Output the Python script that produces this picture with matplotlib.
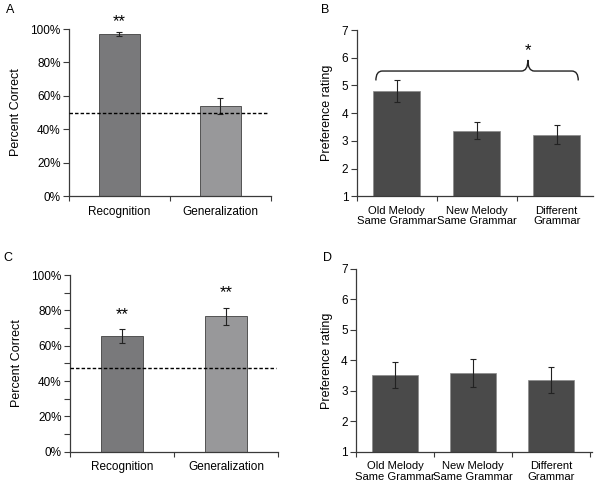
import numpy as np
import matplotlib
matplotlib.use("Agg")
import matplotlib.pyplot as plt
from matplotlib.path import Path
from matplotlib.patches import PathPatch
from matplotlib.ticker import FuncFormatter, MultipleLocator, FixedLocator

plt.rcParams['font.family'] = ['Liberation Sans', 'DejaVu Sans']
plt.rcParams['font.size'] = 8.5

# data
acc_labels = ["Recognition", "Generalization"]
acc_a = [0.97, 0.537]
acc_a_err = [0.01, 0.047]
chance_a = 0.495
acc_c = [0.655, 0.767]
acc_c_err = [0.038, 0.049]
chance_c = 0.475

pref_labels = ["Old Melody\nSame Grammar", "New Melody\nSame Grammar", "Different\nGrammar"]
pref_b = [4.80, 3.37, 3.23]
pref_b_err = [0.38, 0.30, 0.33]
pref_d = [3.52, 3.57, 3.36]
pref_d_err = [0.42, 0.46, 0.43]

acc_colors = ["#79797b", "#98989a"]
pref_color = "#4a4a4a"
spine_col = "#3a3a3a"

fig = plt.figure(figsize=(6.02, 4.92), dpi=100)


def style_axis(ax, n, xmax):
    for s in ["top", "right"]:
        ax.spines[s].set_visible(False)
    for s in ["left", "bottom"]:
        ax.spines[s].set_color(spine_col)
        ax.spines[s].set_linewidth(0.9)
    ax.set_xlim(-0.5, xmax)
    ax.set_xticks(range(n))
    ax.xaxis.set_minor_locator(FixedLocator([i - 0.5 for i in range(n + 1)]))
    ax.tick_params(axis="x", which="major", length=0, pad=7)
    ax.tick_params(axis="x", which="minor", length=3.5, width=0.8, color=spine_col)
    ax.tick_params(axis="y", which="both", direction="out", width=0.8, color=spine_col, pad=2)
    ax.tick_params(axis="y", which="major", length=4)
    ax.tick_params(axis="y", which="minor", length=4)


def acc_panel(rect, vals, errs, chance, stars_y, minor):
    ax = fig.add_axes(rect)
    x = np.arange(len(vals))
    ax.bar(x, vals, width=0.4, color=acc_colors, edgecolor="#404040", linewidth=0.6, zorder=2)
    ax.errorbar(x, vals, yerr=errs, fmt="none", ecolor="#222222", elinewidth=0.8, capsize=2.5, capthick=0.8, zorder=3)
    ax.axhline(chance, xmin=0, xmax=0.99, color="black", linestyle=(0, (2.5, 1.5)), linewidth=1.0, zorder=4)
    ax.set_ylim(0, 1)
    ax.yaxis.set_major_locator(MultipleLocator(0.2))
    if minor:
        ax.yaxis.set_minor_locator(MultipleLocator(0.1))
    ax.yaxis.set_major_formatter(FuncFormatter(lambda v, p: f"{v * 100:.0f}%"))
    style_axis(ax, len(vals), 1.5)
    ax.set_xticklabels(acc_labels)
    ax.set_ylabel("Percent Correct", fontsize=9, labelpad=6)
    for xi, sy in zip(x, stars_y):
        if sy is not None:
            ax.text(xi, sy, "**", ha="center", va="center", fontsize=12)
    return ax


def pref_panel(rect, vals, errs, xmax):
    ax = fig.add_axes(rect)
    x = np.arange(len(vals))
    ax.bar(x, vals, width=0.58, bottom=0, color=pref_color, edgecolor="#8a8a8a", linewidth=0.5, zorder=2)
    ax.errorbar(x, vals, yerr=errs, fmt="none", ecolor="#222222", elinewidth=0.8, capsize=2.5, capthick=0.8, zorder=3)
    ax.set_ylim(1, 7)
    ax.set_yticks(range(1, 8))
    style_axis(ax, len(vals), xmax)
    ax.set_xticklabels(pref_labels, linespacing=1.05, fontsize=8.1)
    ax.set_ylabel("Preference rating", fontsize=9, labelpad=6)
    return ax


axA = acc_panel([0.1146, 0.6016, 0.3355, 0.3394], acc_a, acc_a_err, chance_a, [1.045, None], False)
axC = acc_panel([0.1163, 0.082, 0.3455, 0.359], acc_c, acc_c_err, chance_c, [0.775, 0.90], True)
axB = pref_panel([0.5925, 0.601, 0.3925, 0.338], pref_b, pref_b_err, 2.454)
axD = pref_panel([0.5914, 0.082, 0.3915, 0.3713], pref_d, pref_d_err, 2.52)

# curly brace over panel B
x0, x1, xm = -0.26, 2.27, 1.64
yb, ye, yt = 5.52, 5.18, 5.92
dx = 0.08
verts = [
    (x0, ye), (x0, yb), (x0 + dx, yb),
    (xm - dx, yb), (xm, yb), (xm, yt),
    (xm, yb), (xm + dx, yb),
    (x1 - dx, yb), (x1, yb), (x1, ye),
]
codes = [Path.MOVETO, Path.CURVE3, Path.CURVE3,
         Path.LINETO, Path.CURVE3, Path.CURVE3,
         Path.CURVE3, Path.CURVE3,
         Path.LINETO, Path.CURVE3, Path.CURVE3]
axB.add_patch(PathPatch(Path(verts, codes), facecolor="none", edgecolor="#222222", linewidth=1.0, clip_on=False))
axB.text(xm, 6.25, "*", ha="center", va="center", fontsize=12)

# panel letters
for lab, px, py in [("A", 10, 10), ("B", 325, 10), ("C", 8, 258), ("D", 328, 258)]:
    fig.text(px / 602, 1 - py / 492, lab, ha="center", va="center", fontsize=9)

fig.savefig("out.png", dpi=100)
